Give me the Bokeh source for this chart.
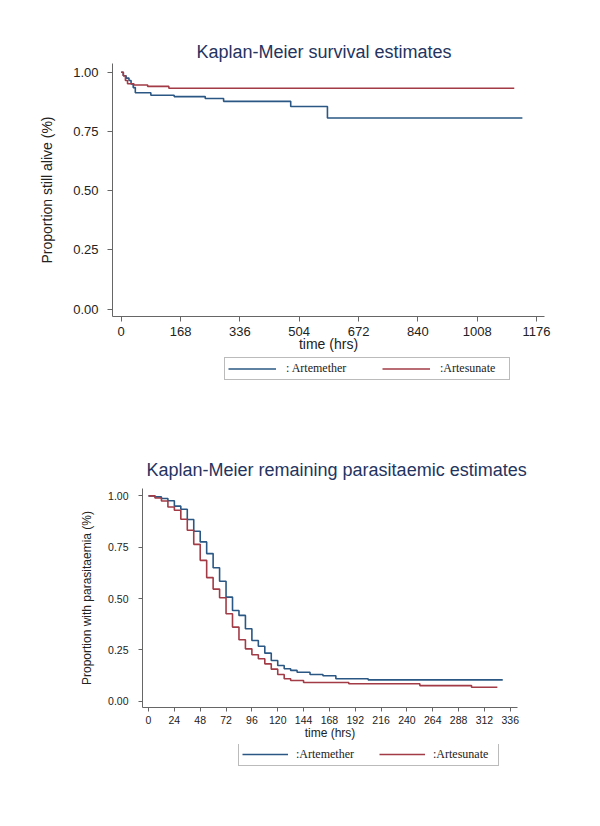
from bokeh.plotting import figure
from bokeh.models import Range1d, FixedTicker, NumeralTickFormatter, Legend, LegendItem, Title
from bokeh.embed import file_html
from bokeh.resources import INLINE

# ---------------- data: survival (top) ----------------
surv_xticks = [0, 168, 336, 504, 672, 840, 1008, 1176]
surv_yticks = [0.0, 0.25, 0.50, 0.75, 1.00]
surv_art_t = [0, 6, 14, 22, 28, 34, 40, 84, 150, 238, 290, 480, 584, 1136]
surv_art_s = [1.0, 0.985, 0.975, 0.965, 0.95, 0.935, 0.913, 0.903, 0.897, 0.889, 0.877, 0.855, 0.807, 0.807]
surv_ars_t = [0, 6, 12, 18, 36, 75, 135, 1113]
surv_ars_s = [1.0, 0.985, 0.965, 0.951, 0.946, 0.94, 0.932, 0.932]

# ---------------- data: parasitaemia (bottom) ----------------
para_xticks = [0, 24, 48, 72, 96, 120, 144, 168, 192, 216, 240, 264, 288, 312, 336]
para_yticks = [0.0, 0.25, 0.50, 0.75, 1.00]
para_art_t = [0, 6, 12, 18, 24, 30, 36, 42, 48, 54, 60, 66, 72, 78, 84, 90, 96, 102,
              108, 114, 120, 126, 132, 138, 150, 162, 174, 204, 329]
para_art_s = [1.0, 0.995, 0.987, 0.976, 0.95, 0.935, 0.885, 0.828, 0.776, 0.719, 0.65, 0.584,
              0.507, 0.442, 0.418, 0.353, 0.296, 0.268, 0.234, 0.198, 0.174, 0.158, 0.15,
              0.141, 0.13, 0.124, 0.109, 0.104, 0.104]
para_ars_t = [0, 6, 12, 18, 24, 30, 36, 42, 48, 54, 60, 66, 72, 78, 84, 90, 96, 102,
              108, 114, 120, 126, 132, 144, 186, 252, 300, 324]
para_ars_s = [1.0, 0.99, 0.975, 0.946, 0.93, 0.886, 0.833, 0.764, 0.686, 0.602, 0.546, 0.504,
              0.426, 0.361, 0.299, 0.255, 0.226, 0.207, 0.182, 0.156, 0.13, 0.109, 0.101,
              0.091, 0.085, 0.076, 0.068, 0.068]

legend_labels_top = [": Artemether", ":Artesunate"]
legend_labels_bottom = [":Artemether", ":Artesunate"]

BLUE = "#2a5783"
RED = "#a23b45"
AXIS = "#666666"
TXT = "#222222"
TITLE = "#24345f"
SANS = "Liberation Sans"
SERIF = "Liberation Serif"
W = 592


def style_axes(p, tick_font, xstand, ystand, xlab_stand, ylab_stand, lab_font, tick_len):
    for ax in (p.xaxis[0], p.yaxis[0]):
        ax.axis_line_color = AXIS
        ax.major_tick_line_color = AXIS
        ax.minor_tick_line_color = None
        ax.major_tick_in = 0
        ax.major_tick_out = tick_len
        ax.major_label_text_font = SANS
        ax.major_label_text_font_size = tick_font
        ax.major_label_text_color = TXT
        ax.axis_label_text_font = SANS
        ax.axis_label_text_font_size = lab_font
        ax.axis_label_text_font_style = "normal"
        ax.axis_label_text_color = TXT
    p.xaxis[0].major_label_standoff = xstand
    p.yaxis[0].major_label_standoff = ystand
    p.xaxis[0].axis_label_standoff = xlab_stand
    p.yaxis[0].axis_label_standoff = ylab_stand
    p.xgrid.visible = False
    p.ygrid.visible = False
    p.outline_line_color = None


def legend_strip(height, labels, series, loc, glyph_w, standoff, label_w, spacing, lab_h):
    # legend-only strip: the series are drawn through the scales but kept out of view
    f = figure(width=W, height=height, output_backend="svg", toolbar_location=None,
               x_range=Range1d(0, 1), y_range=Range1d(10, 11),
               x_axis_location=None, y_axis_location=None, min_border=0)
    f.xgrid.visible = False
    f.ygrid.visible = False
    f.outline_line_color = None
    (ta, sa), (tb, sb) = series
    ra = f.line(ta, sa, line_color=BLUE, line_width=1.6)
    rb = f.line(tb, sb, line_color=RED, line_width=1.6)
    leg = Legend(items=[LegendItem(label=labels[0], renderers=[ra]),
                        LegendItem(label=labels[1], renderers=[rb])],
                 location=loc, orientation="horizontal",
                 label_text_font=SERIF, label_text_font_size="12px", label_text_color=TXT,
                 glyph_width=glyph_w, glyph_height=lab_h, label_standoff=standoff,
                 label_width=label_w, label_height=lab_h, spacing=spacing, padding=3, margin=0,
                 border_line_color="#777777", border_line_width=1,
                 background_fill_color="white", background_fill_alpha=1.0)
    f.add_layout(leg)
    return f


# ---------------- top figure ----------------
p1 = figure(width=W, height=356, output_backend="svg", toolbar_location=None,
            x_range=Range1d(-24.6, 1198.6), y_range=Range1d(-0.0308, 1.0367),
            min_border_left=112, min_border_right=48, min_border_top=63, min_border_bottom=40,
            x_axis_label="time (hrs)", y_axis_label="Proportion still alive (%)")
p1.title = Title(text="Kaplan-Meier survival estimates", align="left", offset=84,
                 text_font=SANS, text_font_size="18px", text_font_style="normal",
                 text_color=TITLE, standoff=4)
p1.xaxis[0].ticker = FixedTicker(ticks=surv_xticks)
p1.yaxis[0].ticker = FixedTicker(ticks=surv_yticks)
p1.yaxis[0].formatter = NumeralTickFormatter(format="0.00")
style_axes(p1, "13px", 5, 9, -3, 15, "14px", 5)
p1.step(surv_art_t, surv_art_s, mode="after", line_color=BLUE, line_width=1.6)
p1.step(surv_ars_t, surv_ars_s, mode="after", line_color=RED, line_width=1.6)

l1 = legend_strip(36, legend_labels_top,
                  [(surv_art_t, surv_art_s), (surv_ars_t, surv_ars_s)],
                  (224, 12), 48, 10, 66, 30, 15)

# ---------------- bottom figure ----------------
p2 = figure(width=W, height=352, output_backend="svg", toolbar_location=None,
            x_range=Range1d(-5.6, 342.7), y_range=Range1d(-0.0307, 1.036),
            min_border_left=142, min_border_right=75, min_border_top=96, min_border_bottom=37,
            x_axis_label="time (hrs)", y_axis_label="Proportion with parasitaemia (%)")
p2.title = Title(text="Kaplan-Meier remaining parasitaemic estimates", align="left", offset=4,
                 text_font=SANS, text_font_size="18px", text_font_style="normal",
                 text_color=TITLE, standoff=17)
p2.xaxis[0].ticker = FixedTicker(ticks=para_xticks)
p2.yaxis[0].ticker = FixedTicker(ticks=para_yticks)
p2.yaxis[0].formatter = NumeralTickFormatter(format="0.00")
style_axes(p2, "10.5px", 4, 10, -1, 11, "12px", 4)
p2.step(para_art_t, para_art_s, mode="after", line_color=BLUE, line_width=1.6)
p2.step(para_ars_t, para_ars_s, mode="after", line_color=RED, line_width=1.6)

l2 = legend_strip(30, legend_labels_bottom,
                  [(para_art_t, para_art_s), (para_ars_t, para_ars_s)],
                  (238, 8), 46, 8, 62, 21, 16)

open("out.html", "w").write(file_html([p1, l1, p2, l2], INLINE))
